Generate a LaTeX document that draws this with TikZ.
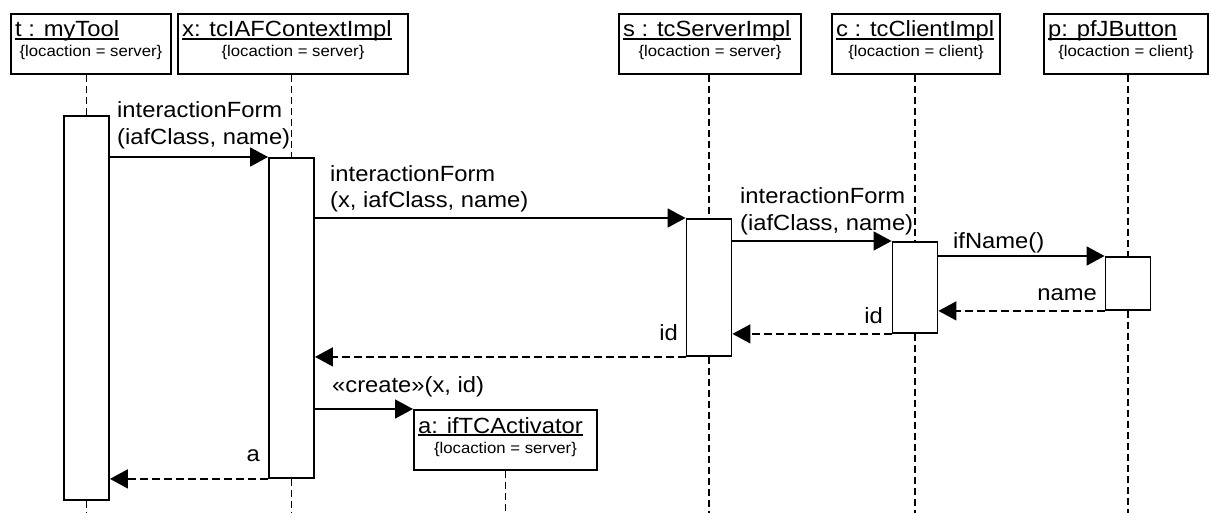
\documentclass[tikz,border=0pt]{standalone}
\usepackage{fontspec}
\setmainfont{Liberation Sans}[FakeStretch=1.08]
\usetikzlibrary{arrows.meta,calc}
\pgfdeclarelayer{paper}
\pgfdeclarelayer{background}
\pgfsetlayers{paper,background,main}
\tikzset{
  objbox/.style={draw, line width=1.9pt, fill=white, inner sep=0pt, minimum height=60pt, anchor=north west},
  objname/.style={inner sep=0pt, anchor=base west, font=\fontsize{22}{27}\selectfont},
  objtag/.style={inner sep=0pt, anchor=base, font=\fontsize{15.5}{18}\selectfont},
  uline/.style={line width=1.4pt},
  lifeline/.style={line width=1.6pt, dash pattern=on 7pt off 4pt},
  actbar/.style={draw, line width=1.9pt, fill=white, inner sep=0pt, minimum width=45pt, anchor=north},
  call/.style={line width=1.7pt, -{Triangle[length=18pt,width=19pt]}},
  reply/.style={call, dash pattern=on 8pt off 4pt},
  msglabel/.style={inner sep=0pt, font=\fontsize{22}{27}\selectfont},
}
% object head: name, left, top, width, underlined title, constraint
\newcommand{\umlobject}[6]{%
  \node[objbox, minimum width=#4pt] (#1) at (#2,#3) {};
  \node[objname] (#1n) at ($(#1.north west)+(5,24)$) {#5};
  \draw[uline] ($(#1n.base west)+(0,2)$) -- ($(#1n.base east)+(0,2)$);
  \node[objtag] (#1g) at ($(#1.north)+(0,44)$) {#6};
}
\newcommand{\twolines}[2]{\begin{tabular}[b]{@{}l@{}}#1\\#2\end{tabular}}
\begin{document}
\begin{tikzpicture}[x=1pt,y=-1pt]
  \useasboundingbox (0,0) rectangle (1210,513);
  \begin{pgfonlayer}{paper}
    \fill[white] (0,0) rectangle (1210,513);
  \end{pgfonlayer}
  \coordinate (bot) at (0,513);

  % object heads
  \umlobject{tB}{10}{13}{160}{t : myTool}{\{locaction = server\}}
  \umlobject{xB}{177}{13}{230}{x: tcIAFContextImpl}{\{locaction = server\}}
  \umlobject{sB}{618}{13}{182}{s : tcServerImpl}{\{locaction = server\}}
  \umlobject{cB}{831}{13}{168}{c : tcClientImpl}{\{locaction = client\}}
  \umlobject{pB}{1043}{13}{164}{p: pfJButton}{\{locaction = client\}}
  \umlobject{aB}{413}{409}{183}{a: ifTCActivator}{\{locaction = server\}}

  % activation bars
  \node[actbar, minimum height=384pt] (tA) at (86.5,115) {};
  \node[actbar, minimum height=320pt] (xA) at (291.5,157) {};
  \node[actbar, minimum height=137pt] (sA) at (709,218) {};
  \node[actbar, minimum height=91pt]  (cA) at (915,241) {};
  \node[actbar, minimum height=53pt]  (pA) at (1128,256) {};

  % lifelines
  \begin{pgfonlayer}{background}
    \draw[lifeline] (tB.south -| tA.north) -- (tA.north);
    \draw[lifeline] (xB.south -| xA.north) -- (xA.north);
    \draw[lifeline] (sB.south -| sA.north) -- (sA.north);
    \draw[lifeline] (cB.south -| cA.north) -- (cA.north);
    \draw[lifeline] (pB.south -| pA.north) -- (pA.north);
    \draw[lifeline] (tA.south) -- (tA.south |- bot);
    \draw[lifeline] (xA.south) -- (xA.south |- bot);
    \draw[lifeline] (sA.south) -- (sA.south |- bot);
    \draw[lifeline] (cA.south) -- (cA.south |- bot);
    \draw[lifeline] (pA.south) -- (pA.south |- bot);
    \draw[lifeline] (aB.south) -- (aB.south |- bot);
  \end{pgfonlayer}

  % messages
  \draw[call]  (tA.east |- xA.north) -- (xA.north west);
  \draw[call]  (xA.east |- sA.north) -- (sA.north west);
  \draw[call]  (sA.east |- cA.north) -- (cA.north west);
  \draw[call]  (cA.east |- pA.north) -- (pA.north west);
  \draw[reply] (pA.south west) -- (cA.east |- pA.south);
  \draw[reply] (cA.south west) -- (sA.east |- cA.south);
  \draw[reply] (sA.south west) -- (xA.east |- sA.south);
  \draw[call]  (xA.east |- aB.north) -- (aB.north west);
  \draw[reply] (xA.south west) -- (tA.east |- xA.south);

  % message labels
  \node[msglabel, anchor=base west] (l1) at (117,145) {\twolines{interactionForm}{(iafClass, name)}};
  \node[msglabel, anchor=base west] (l2) at (330,208) {\twolines{interactionForm}{(x, iafClass, name)}};
  \node[msglabel, anchor=base west] (l3) at (740,230) {\twolines{interactionForm}{(iafClass, name)}};
  \node[msglabel, anchor=base west] (l4) at (953,248) {ifName()};
  \node[msglabel, anchor=base east] (l5) at (1097,300) {name};
  \node[msglabel, anchor=base east] (l6) at (883,323) {id};
  \node[msglabel, anchor=base east] (l7) at (678,340) {id};
  \node[msglabel, anchor=base west] (l8) at (332,392) {«create»(x, id)};
  \node[msglabel, anchor=base east] (l9) at (260,461) {a};
\end{tikzpicture}
\end{document}
